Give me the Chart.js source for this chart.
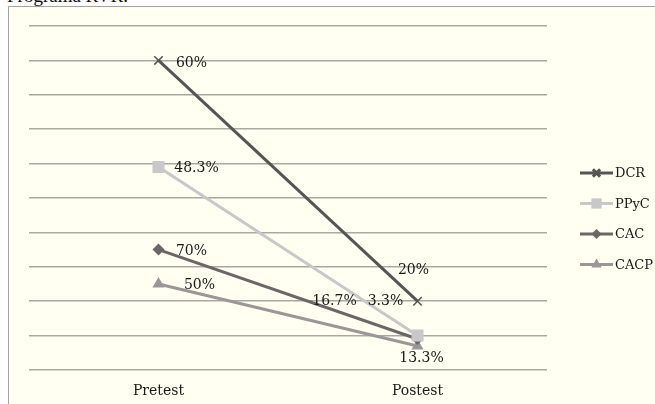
<!DOCTYPE html>
<html>
<head>
<meta charset="utf-8">
<script src="https://cdn.jsdelivr.net/npm/chart.js@4/dist/chart.umd.min.js"></script>
<style>
  html, body { margin: 0; padding: 0; background: #fff; overflow: hidden; }
  body { width: 655px; height: 404px; position: relative; }
  #titulo { position: absolute; left: 7px; top: -14px; font: 19px "Liberation Serif", serif; line-height: 19px; color: #111; white-space: nowrap; }
  #marco { position: absolute; left: 8px; top: 6px; width: 700px; height: 500px; border: 1px solid #a3a3a3; background: #fffff2; }
  #grafico { position: absolute; left: 0; top: 0; }
</style>
</head>
<body>
<div id="titulo">Programa RVR.</div>
<div id="marco"></div>
<canvas id="grafico" width="655" height="404"></canvas>
<script>
const categorias = ["Pretest", "Postest"];
const series = ["DCR", "PPyC", "CAC", "CACP"];
const valoresDCR = [9, 2];
const valoresPPyC = [5.9, 1];
const valoresCAC = [3.5, 0.9];
const valoresCACP = [2.5, 0.7];
const etiquetasDCR = ["60%", "20%"];
const etiquetasPPyC = ["48.3%", "3.3%"];
const etiquetasCAC = ["70%", "16.7%"];
const etiquetasCACP = ["50%", "13.3%"];

let colores = ["#555555", "#c8c8c8", "#6c6767", "#9b9797"];
let marcas = ["crossRot", "rect", "rectRot", "triangle"];
let radios = [6, 8.5, 6, 7];

// desplazamiento de cada etiqueta respecto a su punto (centro del texto)
let desplazamientos = [
    [[33, 3], [-4, -31]],
    [[38, 1], [-32, -34]],
    [[33, 2], [-83, -38]],
    [[41, 1], [4, 12]]
];

let valores = [valoresDCR, valoresPPyC, valoresCAC, valoresCACP];
let etiquetas = [etiquetasDCR, etiquetasPPyC, etiquetasCAC, etiquetasCACP];

let datasets = series.map((nombre, i) => ({
    label: nombre,
    data: valores[i],
    borderColor: colores[i],
    backgroundColor: colores[i],
    borderWidth: 3,
    pointStyle: marcas[i],
    pointRadius: radios[i],
    pointBorderWidth: marcas[i] === "crossRot" ? 1.5 : 0,
    pointHoverRadius: radios[i],
    tension: 0
}));

const etiquetasPlugin = {
    id: 'etiquetas',
    afterDatasetsDraw(chart) {
        const ctx = chart.ctx;
        ctx.save();
        ctx.font = '14px "DejaVu Serif", serif';
        ctx.fillStyle = '#1a1a1a';
        ctx.textAlign = 'center';
        ctx.textBaseline = 'middle';
        chart.data.datasets.forEach((ds, i) => {
            chart.getDatasetMeta(i).data.forEach((pt, j) => {
                const d = desplazamientos[i][j];
                ctx.fillText(etiquetas[i][j], pt.x + d[0], pt.y + d[1]);
            });
        });
        ctx.restore();
    }
};

const leyendaPlugin = {
    id: 'leyenda',
    afterDraw(chart) {
        const ctx = chart.ctx;
        const x0 = chart.chartArea.right + 33;
        ctx.save();
        chart.data.datasets.forEach((ds, i) => {
            const y = 173 + i * 30.5;
            ctx.strokeStyle = ds.borderColor;
            ctx.fillStyle = ds.borderColor;
            ctx.lineWidth = 3;
            ctx.beginPath();
            ctx.moveTo(x0, y);
            ctx.lineTo(x0 + 33, y);
            ctx.stroke();
            Chart.helpers.drawPoint(ctx, {
                pointStyle: ds.pointStyle,
                rotation: 0,
                radius: ds.pointRadius * 0.85,
                borderWidth: ds.pointStyle === "crossRot" ? 1.2 : 0
            }, x0 + 16.5, y);
            ctx.font = '13px "DejaVu Serif", serif';
            ctx.fillStyle = '#1a1a1a';
            ctx.textAlign = 'left';
            ctx.textBaseline = 'middle';
            ctx.fillText(ds.label, x0 + 35, y + 1);
        });
        ctx.restore();
    }
};

new Chart(document.getElementById('grafico'), {
    type: 'line',
    data: { labels: categorias, datasets: datasets },
    options: {
        responsive: false,
        animation: false,
        devicePixelRatio: 1,
        layout: { padding: { left: 29, top: 26, right: 108, bottom: 0 } },
        plugins: {
            legend: { display: false },
            tooltip: { enabled: false }
        },
        scales: {
            x: {
                offset: true,
                grid: { display: false },
                border: { display: false },
                afterFit(scale) { scale.height = 34; },
                ticks: { padding: 5, color: '#1a1a1a', font: { family: '"DejaVu Serif", serif', size: 14 } }
            },
            y: {
                min: 0,
                max: 10,
                ticks: { display: false, stepSize: 1 },
                border: { display: false },
                grid: { color: '#a9a9a2', lineWidth: 1.5, drawTicks: false }
            }
        }
    },
    plugins: [etiquetasPlugin, leyendaPlugin]
});
</script>
</body>
</html>
